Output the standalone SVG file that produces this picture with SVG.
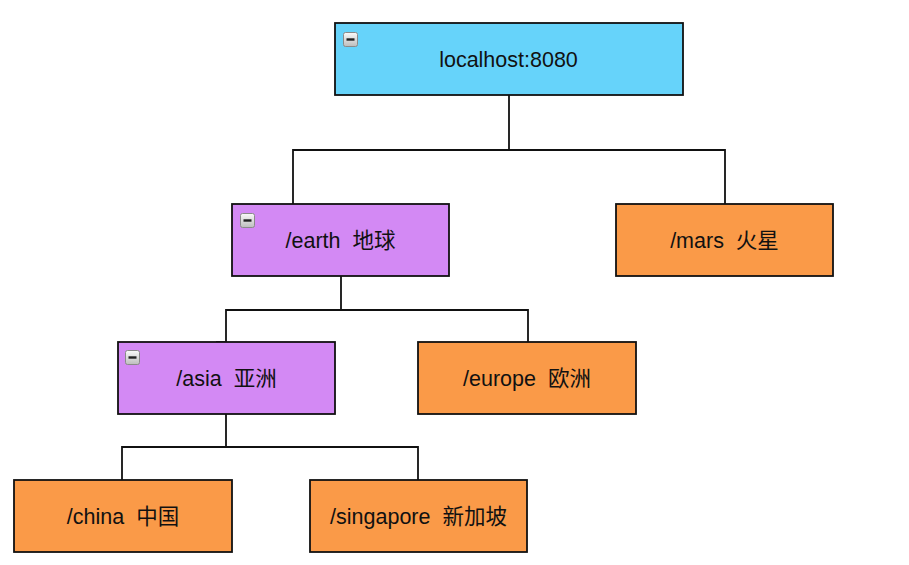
<svg xmlns="http://www.w3.org/2000/svg" width="909" height="565" viewBox="0 0 909 565">
<defs>
<linearGradient id="ig" x1="0" y1="0" x2="0" y2="1">
<stop offset="0" stop-color="#fafafa"/>
<stop offset="1" stop-color="#bdbdbd"/>
</linearGradient>
<g id="icon">
<rect x="0.5" y="0.5" width="14" height="14" rx="2" fill="url(#ig)" stroke="#8a8a8a" stroke-width="1"/>
<rect x="3.5" y="6.3" width="8" height="2.4" fill="#222"/>
</g>
</defs>
<style>
.n{stroke:#111;stroke-width:1.8}
.root{fill:#66D3FA}
.inner{fill:#D389F4}
.leaf{fill:#FA9A48}
.t{font-family:"Liberation Sans","Noto Sans CJK SC",Arial,sans-serif;font-size:21.5px;fill:#111;text-anchor:middle}
.c{fill:none;stroke:#111;stroke-width:1.8}
</style>
<rect width="909" height="565" fill="#fff"/>
<g id="connectors">
<polyline class="c" points="509,95 509,150 293,150 293,204"/>
<polyline class="c" points="509,150 725,150 725,204"/>
<polyline class="c" points="341,276 341,310 226,310 226,342"/>
<polyline class="c" points="341,310 528,310 528,342"/>
<polyline class="c" points="226,414 226,447 122,447 122,480"/>
<polyline class="c" points="226,447 418,447 418,480"/>
<line x1="216" y1="342.5" x2="227" y2="342.5" stroke="#111" stroke-width="2.6"/>
</g>
<g id="root">
<rect class="n root" x="335" y="23" width="348" height="72"/>
<use href="#icon" x="343" y="32"/>
<text class="t" x="508.5" y="66.5">localhost:8080</text>
</g>
<g id="earth">
<rect class="n inner" x="232" y="204" width="217" height="72"/>
<use href="#icon" x="240" y="213"/>
<text class="t" x="340.5" y="247.5">/earth&#160;&#160;地球</text>
</g>
<g id="mars">
<rect class="n leaf" x="616" y="204" width="217" height="72"/>
<text class="t" x="724.5" y="247.5">/mars&#160;&#160;火星</text>
</g>
<g id="asia">
<rect class="n inner" x="118" y="342" width="217" height="72"/>
<use href="#icon" x="125" y="350"/>
<text class="t" x="226.5" y="385.5">/asia&#160;&#160;亚洲</text>
</g>
<g id="europe">
<rect class="n leaf" x="418" y="342" width="218" height="72"/>
<text class="t" x="527" y="385.5">/europe&#160;&#160;欧洲</text>
</g>
<g id="china">
<rect class="n leaf" x="14" y="480" width="218" height="72"/>
<text class="t" x="123" y="523.5">/china&#160;&#160;中国</text>
</g>
<g id="singapore">
<rect class="n leaf" x="310" y="480" width="217" height="72"/>
<text class="t" x="418.5" y="523.5">/singapore&#160;&#160;新加坡</text>
</g>
</svg>
